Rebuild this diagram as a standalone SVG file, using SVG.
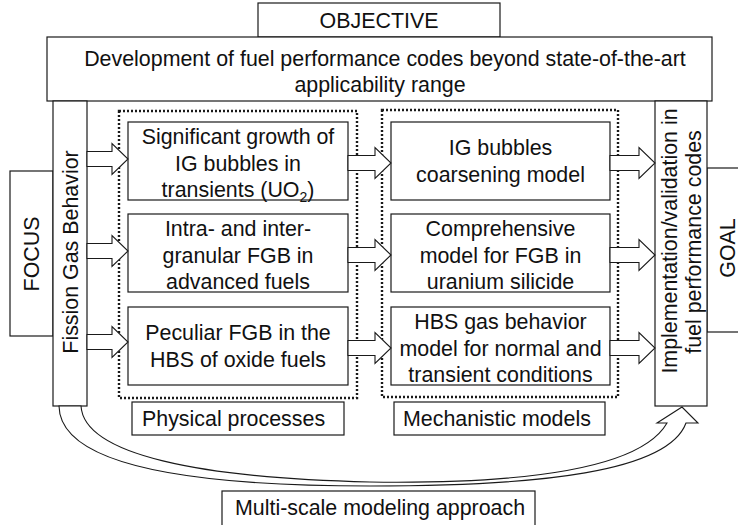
<svg xmlns="http://www.w3.org/2000/svg" width="738" height="525" viewBox="0 0 738 525">
<style>
.b{fill:#fff;stroke:#1a1a1a;stroke-width:1.2}
.d{fill:none;stroke:#1a1a1a;stroke-width:2.4;stroke-dasharray:2 2}
.a{fill:#fff;stroke:#1a1a1a;stroke-width:1.1}
text{font-family:"Liberation Sans",Arial,sans-serif;font-size:21.4px;fill:#111}
.m{text-anchor:middle}
</style>
<rect width="738" height="525" fill="#fff"/>
<g id="objective">
<rect class="b" x="258" y="3" width="242" height="34"/>
<text class="m" x="379" y="28">OBJECTIVE</text>
</g>
<g id="development">
<rect class="b" x="47" y="37" width="665" height="64"/>
<text class="m" x="385" y="66" font-size="21.8">Development of fuel performance codes beyond state-of-the-art</text>
<text class="m" x="380" y="92" font-size="21.8">applicability range</text>
</g>
<g id="focus">
<rect class="b" x="10" y="171" width="43" height="165"/>
<text class="m" transform="translate(39,254) rotate(-90)">FOCUS</text>
</g>
<g id="fission">
<rect class="b" x="53" y="101" width="34" height="305"/>
<text class="m" transform="translate(78,252) rotate(-90)">Fission Gas Behavior</text>
</g>
<g id="goal">
<rect class="b" x="707" y="168" width="40" height="164"/>
<text class="m" transform="translate(734.5,248) rotate(-90)">GOAL</text>
</g>
<g id="implementation">
<rect class="b" x="655" y="101" width="52" height="305"/>
<text class="m" transform="translate(677,241) rotate(-90)">Implementation/validation in</text>
<text class="m" transform="translate(701,242) rotate(-90)">fuel performance codes</text>
</g>
<g id="physical-group">
<rect class="d" x="119" y="111" width="238" height="287"/>
</g>
<g id="mechanistic-group">
<rect class="d" x="382" y="110" width="236" height="287"/>
</g>
<g id="p1">
<rect class="b" x="128" y="122" width="220" height="78"/>
<text class="m" x="238" y="144">Significant growth of</text>
<text class="m" x="238" y="170.5">IG bubbles in</text>
<text class="m" x="238" y="197">transients (UO<tspan font-size="14" dy="5">2</tspan><tspan dy="-5">)</tspan></text>
</g>
<g id="p2">
<rect class="b" x="128" y="214" width="220" height="78"/>
<text class="m" x="238" y="236">Intra- and inter-</text>
<text class="m" x="238" y="262.5">granular FGB in</text>
<text class="m" x="238" y="289">advanced fuels</text>
</g>
<g id="p3">
<rect class="b" x="128" y="307" width="220" height="78"/>
<text class="m" x="238" y="340">Peculiar FGB in the</text>
<text class="m" x="238" y="366.5">HBS of oxide fuels</text>
</g>
<g id="m1">
<rect class="b" x="391" y="122" width="219" height="78"/>
<text class="m" x="500.5" y="155">IG bubbles</text>
<text class="m" x="500.5" y="181.5">coarsening model</text>
</g>
<g id="m2">
<rect class="b" x="391" y="214" width="219" height="78"/>
<text class="m" x="500.5" y="236">Comprehensive</text>
<text class="m" x="500.5" y="262.5">model for FGB in</text>
<text class="m" x="500.5" y="289">uranium silicide</text>
</g>
<g id="m3">
<rect class="b" x="391" y="307" width="219" height="78"/>
<text class="m" x="500.5" y="329">HBS gas behavior</text>
<text class="m" x="500.5" y="355.5">model for normal and</text>
<text class="m" x="500.5" y="382">transient conditions</text>
</g>
<g id="physical-label">
<rect class="b" x="132" y="402" width="212" height="33"/>
<text x="142" y="426">Physical processes</text>
</g>
<g id="mechanistic-label">
<rect class="b" x="394" y="402" width="211" height="33"/>
<text x="403" y="426">Mechanistic models</text>
</g>
<g id="multiscale-label">
<rect class="b" x="222" y="491" width="313" height="40"/>
<text x="235" y="515">Multi-scale modeling approach</text>
</g>
<g id="connectors">
<path class="a" d="M87,151.5 H112 V143.5 L128,159 L112,174.5 V166.5 H87 Z"/>
<path class="a" d="M87,243.5 H112 V235.5 L128,251 L112,266.5 V258.5 H87 Z"/>
<path class="a" d="M87,334.5 H112 V326.5 L128,342 L112,357.5 V349.5 H87 Z"/>
<path class="a" d="M348,155.5 H375 V147.5 L391,163 L375,178.5 V170.5 H348 Z"/>
<path class="a" d="M348,247.5 H375 V239.5 L391,255 L375,270.5 V262.5 H348 Z"/>
<path class="a" d="M348,340.5 H375 V332.5 L391,348 L375,363.5 V355.5 H348 Z"/>
<path class="a" d="M610,155.5 H639 V147.5 L655,163 L639,178.5 V170.5 H610 Z"/>
<path class="a" d="M610,247.5 H639 V239.5 L655,255 L639,270.5 V262.5 H610 Z"/>
<path class="a" d="M610,340.5 H639 V332.5 L655,348 L639,363.5 V355.5 H610 Z"/>
<path class="a" d="M81,406 C84,455 200,478 370,482 C520,484 640,470 667,423 L657,423 L682,407 L698,423 L686,423 C668,472 540,486 370,486 C200,486 60,468 59,406 Z"/>
</g>
</svg>
